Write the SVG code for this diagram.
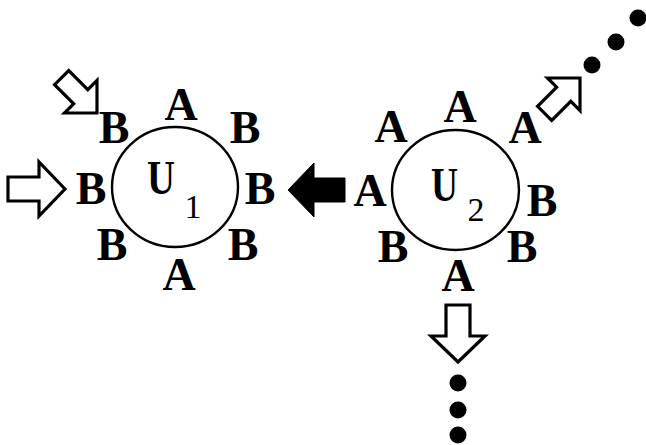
<svg xmlns="http://www.w3.org/2000/svg" xmlns:xlink="http://www.w3.org/1999/xlink" width="646" height="445" viewBox="0 0 646 445">
<style>
.ring{fill:none;stroke:#000;stroke-width:2.4}
.p{font-family:"Liberation Serif","Times New Roman",serif;font-weight:bold;font-size:46px;fill:#000;text-anchor:middle}
.u{font-family:"Liberation Serif","Times New Roman",serif;font-weight:bold;font-size:49px;fill:#000}
.sub{font-family:"Liberation Serif","Times New Roman",serif;font-size:34px;fill:#000;text-anchor:middle}
.hollow{fill:#fff;stroke:#000;stroke-width:3.2;stroke-linejoin:miter}
.solid{fill:#000;stroke:#000;stroke-width:1}
.dot{fill:#000}
</style>
<defs>
<path id="arr" d="M0,0 L-26,-27 L-26,-12 L-57,-12 L-57,12 L-26,12 L-26,27 Z"/>
<path id="darr" d="M0,0 L-23,-23 L-23,-10 L-50,-10 L-50,10 L-23,10 L-23,23 Z"/>
</defs>
<rect width="646" height="445" fill="#fff"/>
<g id="U1">
<ellipse class="ring" cx="175" cy="187" rx="63" ry="60"/>
<text class="u" x="147" y="194" textLength="28" lengthAdjust="spacingAndGlyphs">U</text>
<text class="sub" x="193" y="218">1</text>
<text class="p" x="181" y="120">A</text>
<text class="p" x="114" y="143">B</text>
<text class="p" x="245" y="143">B</text>
<text class="p" x="91" y="204">B</text>
<text class="p" x="260" y="204">B</text>
<text class="p" x="112" y="260">B</text>
<text class="p" x="243" y="260">B</text>
<text class="p" x="179" y="290">A</text>
</g>
<g id="U2">
<ellipse class="ring" cx="455.5" cy="190" rx="63.5" ry="60"/>
<text class="u" x="431" y="201" textLength="27" lengthAdjust="spacingAndGlyphs">U</text>
<text class="sub" x="476" y="221">2</text>
<text class="p" x="391" y="142">A</text>
<text class="p" x="460" y="122">A</text>
<text class="p" x="525" y="143">A</text>
<text class="p" x="370" y="206">A</text>
<text class="p" x="542" y="216">B</text>
<text class="p" x="393" y="262">B</text>
<text class="p" x="522" y="262">B</text>
<text class="p" x="458" y="291">A</text>
</g>
<g id="connectors">
<use xlink:href="#arr" href="#arr" class="hollow" transform="translate(65,189)"/>
<use xlink:href="#darr" href="#darr" class="hollow" transform="translate(97,113) rotate(45)"/>
<use xlink:href="#arr" href="#arr" class="solid" transform="translate(288,190) rotate(180)"/>
<use xlink:href="#darr" href="#darr" class="hollow" transform="translate(580,78) rotate(-45)"/>
<use xlink:href="#arr" href="#arr" class="hollow" transform="translate(458,362) rotate(90)"/>
<circle class="dot" cx="592" cy="65" r="8.5"/>
<circle class="dot" cx="616" cy="42" r="8.5"/>
<circle class="dot" cx="638" cy="18" r="8.5"/>
<circle class="dot" cx="458" cy="383" r="8.5"/>
<circle class="dot" cx="458" cy="410" r="8.5"/>
<circle class="dot" cx="458" cy="435" r="8.5"/>
</g>
</svg>
